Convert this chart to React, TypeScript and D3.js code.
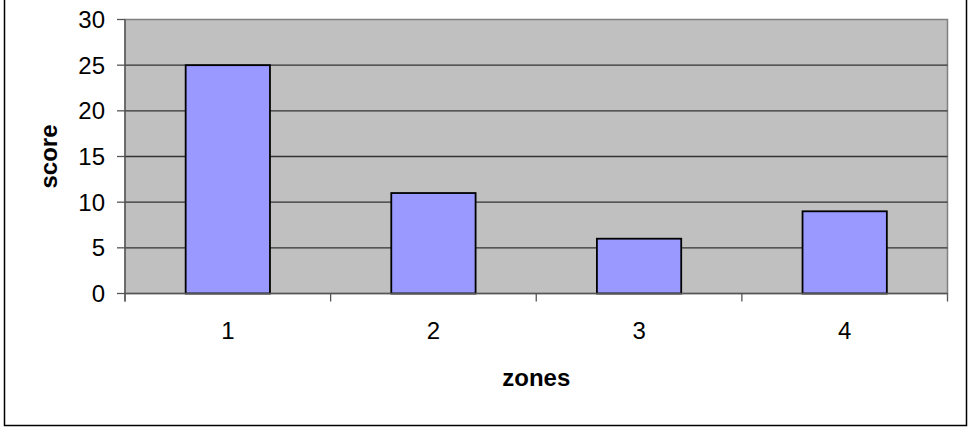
import React from "react";
import * as d3 from "d3";

const categories = ["1", "2", "3", "4"];
const scores = [25, 11, 6, 9];
const yTicks = [0, 5, 10, 15, 20, 25, 30];

export default function App() {
  const W = 969, H = 427;
  const left = 125, right = 947.5, top = 19.5, bottom = 293.5;
  const x = d3.scaleBand<string>().domain(categories).range([left, right]);
  const y = d3.scaleLinear().domain([0, 30]).range([bottom, top]);
  const bw = x.bandwidth() * 0.41;
  const font = "'Liberation Sans', Arial, sans-serif";
  const bounds = [...categories.map((c) => x(c)!), right];
  return (
    <svg width={W} height={H} style={{ position: "absolute", left: 0, top: 0 }} fontFamily={font}>
      <rect x={0} y={0} width={W} height={H} fill="#fff" />
      <rect x={4.5} y={-5} width={962} height={430.5} fill="none" stroke="#000" strokeWidth={1.5} />
      <rect x={left} y={top} width={right - left} height={bottom - top} fill="#C0C0C0" stroke="#808080" strokeWidth={1.5} />
      {yTicks.filter((t) => t > 0 && t < 30).map((t) => (
        <line key={t} x1={left} x2={right} y1={y(t)} y2={y(t)} stroke="#333" strokeWidth={1.3} />
      ))}
      {categories.map((c, i) => (
        <rect key={c} x={x(c)! + (x.bandwidth() - bw) / 2} y={y(scores[i])} width={bw} height={y(0) - y(scores[i])}
          fill="#9999FF" stroke="#000" strokeWidth={1.8} />
      ))}
      <line x1={left} x2={left} y1={top} y2={bottom + 8} stroke="#555" strokeWidth={1.3} />
      <line x1={left} x2={right} y1={bottom} y2={bottom} stroke="#555" strokeWidth={1.3} />
      {yTicks.map((t) => (
        <g key={t}>
          <line x1={left - 8} x2={left} y1={y(t)} y2={y(t)} stroke="#555" strokeWidth={1.3} />
          <text x={105} y={y(t)} dy="0.36em" textAnchor="end" fontSize={24} fill="#000">{t}</text>
        </g>
      ))}
      {bounds.map((b, i) => (
        <line key={i} x1={b} x2={b} y1={bottom} y2={bottom + 8} stroke="#555" strokeWidth={1.3} />
      ))}
      {categories.map((c) => (
        <text key={c} x={x(c)! + x.bandwidth() / 2} y={339} textAnchor="middle" fontSize={24} fill="#000">{c}</text>
      ))}
      <text x={(left + right) / 2} y={386} textAnchor="middle" fontSize={24} fontWeight="bold" fill="#000">zones</text>
      <text transform={`translate(57, ${(top + bottom) / 2}) rotate(-90)`} textAnchor="middle" fontSize={24} fontWeight="bold" fill="#000">score</text>
    </svg>
  );
}
